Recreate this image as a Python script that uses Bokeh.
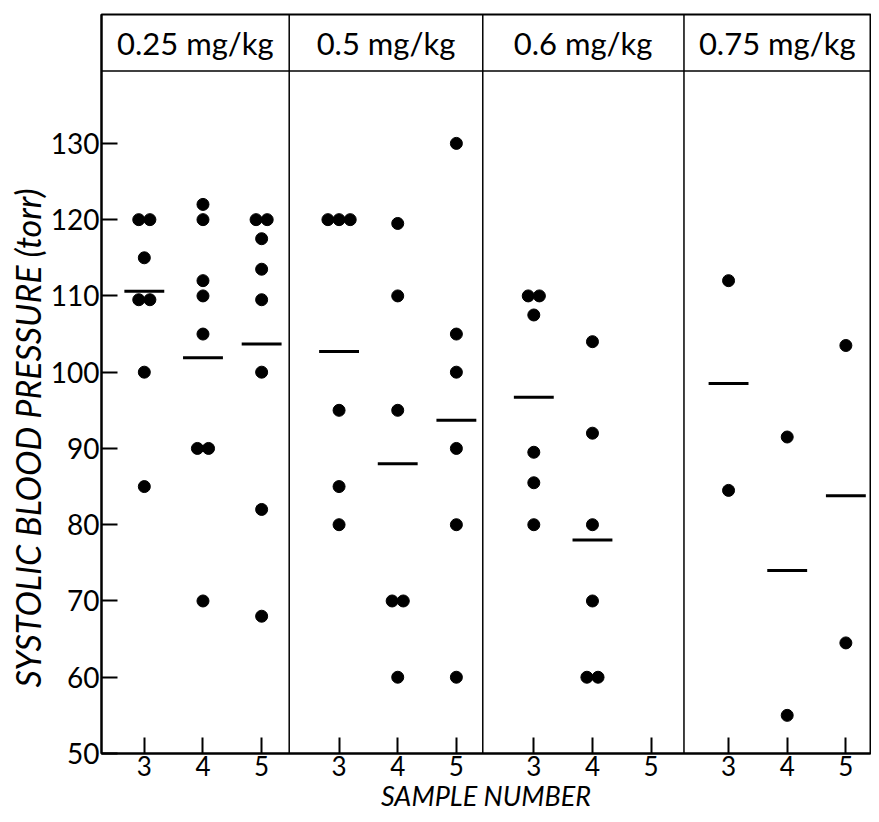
from bokeh.plotting import figure
from bokeh.models import FixedTicker, Span, Range1d, Title
from bokeh.core.properties import value
from bokeh.embed import file_html
from bokeh.resources import INLINE

# ---------------- data ----------------
doses = ["0.25 mg/kg", "0.5 mg/kg", "0.6 mg/kg", "0.75 mg/kg"]
samples = [3, 4, 5]
y_ticks = [50, 60, 70, 80, 90, 100, 110, 120, 130]

# individual systolic pressures (torr) per dose, sample 3 / 4 / 5
dose025_s3 = [120, 120, 115, 109.5, 109.5, 100, 85]
dose025_s4 = [122, 120, 112, 110, 105, 90, 90, 70]
dose025_s5 = [120, 120, 117.5, 113.5, 109.5, 100, 82, 68]

dose05_s3 = [120, 120, 120, 95, 85, 80]
dose05_s4 = [119.5, 110, 95, 70, 70, 60]
dose05_s5 = [130, 105, 100, 90, 80, 60]

dose06_s3 = [110, 110, 107.5, 89.5, 85.5, 80]
dose06_s4 = [104, 92, 80, 70, 60, 60]
dose06_s5 = []

dose075_s3 = [112, 84.5]
dose075_s4 = [91.5, 55]
dose075_s5 = [103.5, 64.5]

# group means (horizontal bars)
means_025 = [110.6, 101.9, 103.7]
means_05 = [102.7, 88.0, 93.7]
means_06 = [96.7, 78.0, None]
means_075 = [98.5, 74.0, 83.8]

values = [
    [dose025_s3, dose025_s4, dose025_s5],
    [dose05_s3, dose05_s4, dose05_s5],
    [dose06_s3, dose06_s4, dose06_s5],
    [dose075_s3, dose075_s4, dose075_s5],
]
means = [means_025, means_05, means_06, means_075]

# ---------------- layout constants ----------------
PANEL_STEP = 3.32           # x distance between panels (data units)
DIVIDERS = [5.47, 8.77, 12.20]
X_START, X_END = 2.27, 15.38
Y_START, Y_END = 50, 146.9
HEADER_LINE = 139.5
HEADER_Y = 143.2
HEADER_X = [3.87, 7.12, 10.48, 13.79]
DUP_SPREAD = 0.19
BAR_HALF = 0.34
FONT = "Lato"

xs, ys = [], []
mx0, mx1, my = [], [], []
for pi, panel in enumerate(values):
    off = pi * PANEL_STEP
    for si, s in enumerate(samples):
        vals = panel[si]
        counts = {}
        for v in vals:
            counts[v] = counts.get(v, 0) + 1
        seen = {}
        for v in vals:
            n = counts[v]
            i = seen.get(v, 0)
            seen[v] = i + 1
            xs.append(off + s + (i - (n - 1) / 2) * DUP_SPREAD)
            ys.append(v)
        m = means[pi][si]
        if m is not None:
            mx0.append(off + s - BAR_HALF)
            mx1.append(off + s + BAR_HALF)
            my.append(m)

tick_pos = []
overrides = {}
for pi in range(len(doses)):
    for s in samples:
        t = round(pi * PANEL_STEP + s, 2)
        tick_pos.append(t)
        overrides[t] = str(s)

p = figure(width=871, height=814, output_backend="svg", toolbar_location=None,
           x_range=Range1d(X_START, X_END), y_range=Range1d(Y_START, Y_END),
           min_border_left=101, min_border_right=1, min_border_top=14,
           min_border_bottom=59)
p.xgrid.visible = False
p.ygrid.visible = False
p.outline_line_color = "black"
p.outline_line_width = 2
p.background_fill_color = "white"
p.border_fill_color = "white"

# axes
p.xaxis.ticker = FixedTicker(ticks=tick_pos)
p.xaxis.major_label_overrides = overrides
p.yaxis.ticker = FixedTicker(ticks=y_ticks)
for ax in (p.xaxis[0], p.yaxis[0]):
    ax.major_tick_in = 16
    ax.major_tick_out = 0
    ax.minor_tick_in = 0
    ax.minor_tick_out = 0
    ax.major_tick_line_width = 2
    ax.axis_line_width = 2
    ax.major_label_text_font = FONT
    ax.major_label_text_color = "black"
    ax.axis_label_text_font = FONT
    ax.axis_label_text_font_style = "italic"
    ax.axis_label_text_color = "black"
p.xaxis.major_label_text_font_size = "26px"
p.yaxis.major_label_text_font_size = "28px"
p.xaxis.axis_label_text_font_size = "27px"
p.xaxis.axis_label = "SAMPLE NUMBER"
p.xaxis.major_label_standoff = 2
p.xaxis.axis_label_standoff = 0
p.yaxis.major_label_standoff = 2

# y-axis title, placed over the data area like the original
p.add_layout(Title(text="SYSTOLIC BLOOD PRESSURE (torr)", align="left", offset=66,
                   standoff=0, text_font=FONT, text_font_style="italic",
                   text_font_size="34px", text_color="black"), "left")

# panel dividers and header
for d in DIVIDERS:
    p.add_layout(Span(location=d, dimension="height", line_color="black", line_width=1.5))
p.add_layout(Span(location=HEADER_LINE, dimension="width", line_color="black", line_width=1.5))

p.text(x=HEADER_X, y=[HEADER_Y] * len(doses), text=doses,
       text_font=value(FONT), text_font_size="31px", text_color="black",
       text_align="center", text_baseline="middle")

# points and mean bars
p.scatter(x=xs, y=ys, size=12, marker="circle", fill_color="black", line_color="black")
p.segment(x0=mx0, y0=my, x1=mx1, y1=my, line_color="black", line_width=3)

open("out.html", "w").write(file_html(p, INLINE))
